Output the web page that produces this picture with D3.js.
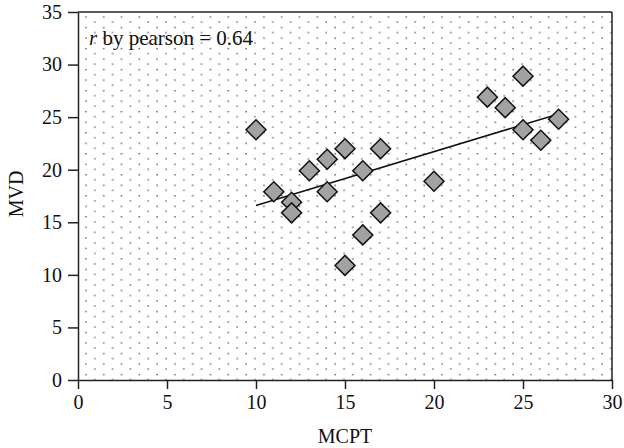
<!DOCTYPE html>
<html>
<head>
<meta charset="utf-8">
<script src="https://cdn.jsdelivr.net/npm/d3@7"></script>
<style>
  body { margin: 0; background: #fff; }
  svg text { font-family: "Liberation Serif", "Times New Roman", Tinos, "DejaVu Serif", serif !important; }
</style>
</head>
<body>
<svg id="chart"></svg>
<script>
// data
const mcpt = [10, 11, 12, 12, 13, 14, 14, 15, 15, 16, 16, 17, 17, 20, 23, 24, 25, 25, 26, 27];
const mvd = [23.8, 17.9, 16.9, 15.9, 19.9, 21, 17.9, 22, 10.9, 19.9, 13.8, 22, 15.9, 18.9, 26.9, 25.9, 28.9, 23.8, 22.8, 24.8];
const xTicks = [0, 5, 10, 15, 20, 25, 30];
const yTicks = [0, 5, 10, 15, 20, 25, 30, 35];

const margin = { top: 12, right: 12, bottom: 68, left: 78 };
const width = 624 - margin.left - margin.right;
const height = 448 - margin.top - margin.bottom;

const svg = d3.select("#chart")
    .attr("width", 624)
    .attr("height", 448);

const g = svg.append("g")
    .attr("transform", `translate(${margin.left},${margin.top})`);

const x = d3.scaleLinear().domain([0, 30]).range([0, width]);
const y = d3.scaleLinear().domain([0, 35]).range([height, 0]);

// dotted background
const pw = x(1) - x(0), ph = y(0) - y(1);
const pat = svg.append("defs").append("pattern")
    .attr("id", "dots")
    .attr("patternUnits", "userSpaceOnUse")
    .attr("x", margin.left).attr("y", margin.top)
    .attr("width", pw).attr("height", ph);
pat.append("rect").attr("x", 0.5).attr("y", 3).attr("width", 1.2).attr("height", 1.2).attr("fill", "#111");
pat.append("rect").attr("x", pw / 2 + 0.5).attr("y", 8).attr("width", 1.2).attr("height", 1.2).attr("fill", "#222");

g.append("rect")
    .attr("width", width)
    .attr("height", height)
    .attr("fill", "url(#dots)");

// frame
g.append("line").attr("x1", 0).attr("x2", width).attr("y1", 0).attr("y2", 0)
    .attr("stroke", "#222").attr("stroke-width", 1.5);
g.append("line").attr("x1", width).attr("x2", width).attr("y1", 0).attr("y2", height)
    .attr("stroke", "#222").attr("stroke-width", 1.5);

// axes
const xAxis = g.append("g")
    .attr("transform", `translate(0,${height})`)
    .call(d3.axisBottom(x).tickValues(xTicks).tickSize(9).tickSizeOuter(0).tickPadding(6));
const yAxis = g.append("g")
    .call(d3.axisLeft(y).tickValues(yTicks).tickSize(10).tickSizeOuter(0).tickPadding(6));

[xAxis, yAxis].forEach(a => {
    a.attr("font-family", null);
    a.select(".domain").attr("stroke", "#222").attr("stroke-width", 1.5);
    a.selectAll(".tick line").attr("stroke", "#222").attr("stroke-width", 1.5);
    a.selectAll(".tick text")
        .attr("fill", "#111")
        .style("font-size", "20px");
});

// regression line (least squares)
const mx = d3.mean(mcpt), my = d3.mean(mvd);
const sxy = d3.sum(mcpt, (d, i) => (d - mx) * (mvd[i] - my));
const sxx = d3.sum(mcpt, d => (d - mx) * (d - mx));
const slope = sxy / sxx;
const icpt = my - slope * mx;
const [x0, x1] = d3.extent(mcpt);
g.append("line")
    .attr("x1", x(x0)).attr("y1", y(icpt + slope * x0))
    .attr("x2", x(x1)).attr("y2", y(icpt + slope * x1))
    .attr("stroke", "#111")
    .attr("stroke-width", 1.5);

// points
const diamond = d3.symbol().type(d3.symbolSquare).size(200);
g.selectAll("path.pt")
    .data(mcpt)
    .enter().append("path")
    .attr("class", "pt")
    .attr("d", diamond)
    .attr("transform", (d, i) => `translate(${x(d)},${y(mvd[i])}) rotate(45)`)
    .attr("fill", "#a2a2a2")
    .attr("stroke", "#111")
    .attr("stroke-width", 1.5);

// annotation
const note = g.append("text")
    .attr("x", 11)
    .attr("y", 33)
    .attr("fill", "#111")
    .style("font-size", "21px");
note.append("tspan").style("font-style", "italic").text("r");
note.append("tspan").text(" by pearson = 0.64");

// axis labels
svg.append("text")
    .attr("x", margin.left + width / 2)
    .attr("y", 443)
    .attr("text-anchor", "middle")
    .attr("fill", "#111")
    .style("font-size", "20px")
    .text("MCPT");

svg.append("text")
    .attr("transform", "rotate(-90)")
    .attr("x", -194)
    .attr("y", 23)
    .attr("text-anchor", "middle")
    .attr("fill", "#111")
    .style("font-size", "20px")
    .text("MVD");
</script>
</body>
</html>
